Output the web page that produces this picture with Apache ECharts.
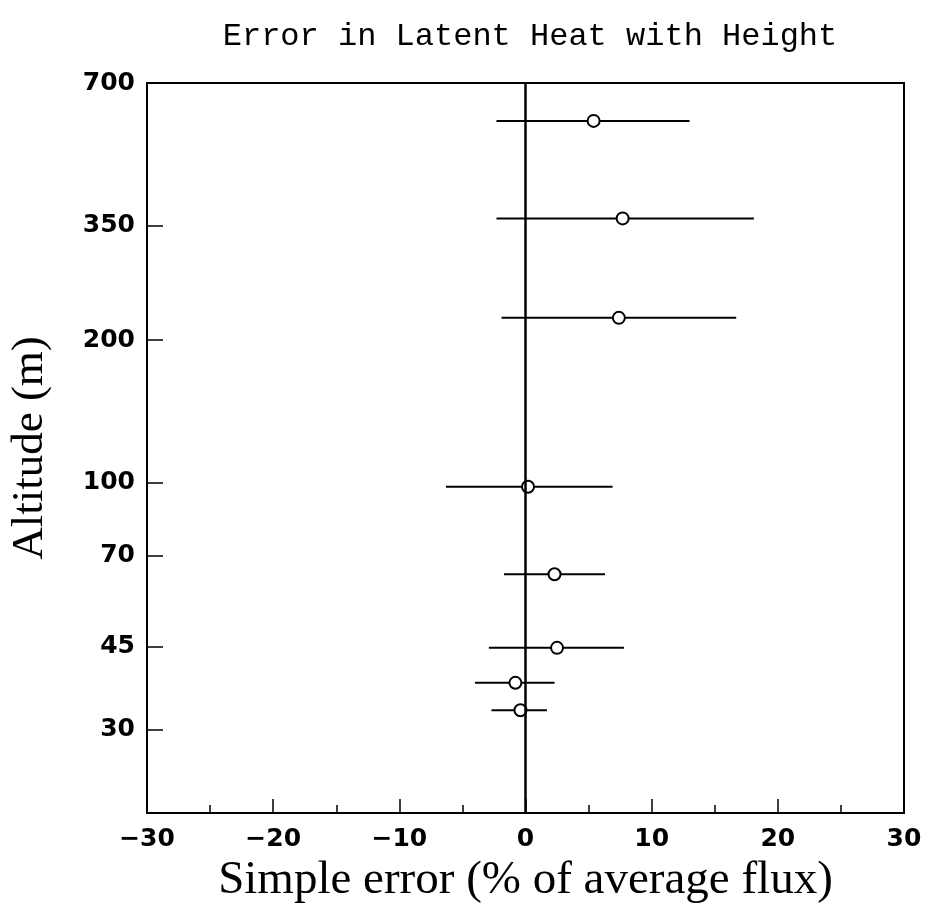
<!DOCTYPE html>
<html>
<head>
<meta charset="utf-8">
<script src="https://cdn.jsdelivr.net/npm/echarts@6/dist/echarts.min.js"></script>
<style>html,body{margin:0;padding:0;background:#fff}#c{width:927px;height:917px}</style>
</head>
<body>
<div id="c"></div>
<script>
// Data
var altitudes = [582, 362, 223, 98, 64, 44.7, 37.7, 33];
var errMean   = [5.4, 7.7, 7.4, 0.2, 2.3, 2.5, -0.8, -0.4];
var errLow    = [-2.3, -2.3, -1.9, -6.3, -1.7, -2.9, -4.0, -2.7];
var errHigh   = [13.0, 18.1, 16.7, 6.9, 6.3, 7.8, 2.3, 1.7];
var yTicks    = [30, 45, 70, 100, 200, 350, 700];

var chart = echarts.init(document.getElementById('c'), null, {renderer: 'canvas'});

var barData = altitudes.map(function (a, i) { return [errLow[i], errHigh[i], a]; });
var pointData = altitudes.map(function (a, i) { return [errMean[i], a]; });

var option = {
  backgroundColor: '#fff',
  animation: false,
  title: {
    text: 'Error in Latent Heat with Height',
    left: 525, top: 16, textAlign: 'center',
    textStyle: {fontFamily: 'Liberation Mono', fontSize: 32, fontWeight: 'normal', color: '#000'}
  },
  grid: {left: 146, right: 23, top: 83, bottom: 104, show: true, borderColor: '#000', borderWidth: 2, backgroundColor: 'transparent'},
  xAxis: {
    type: 'value', min: -30, max: 30, interval: 10,
    name: 'Simple error (% of average flux)', nameLocation: 'middle', nameGap: 28,
    nameTextStyle: {fontFamily: 'Liberation Serif', fontSize: 47, color: '#000'},
    axisLine: {show: true, onZero: false, lineStyle: {color: '#000', width: 2}},
    axisTick: {show: true, inside: true, length: 14, lineStyle: {color: '#000', width: 1.5}},
    minorTick: {show: true, splitNumber: 2, length: 8, lineStyle: {color: '#000', width: 1.5}},
    splitLine: {show: false},
    axisLabel: {margin: 14, fontFamily: 'DejaVu Sans', fontSize: 25, fontWeight: 'bold', color: '#000',
      formatter: function (v) { return String(v).replace('-', '\u2212'); }}
  },
  yAxis: {
    type: 'log', logBase: 10, min: 20, max: 700,
    name: 'Altitude (m)', nameLocation: 'middle', nameGap: 94, nameRotate: 90,
    nameTextStyle: {fontFamily: 'Liberation Serif', fontSize: 45, color: '#000'},
    axisLine: {show: true, onZero: false, lineStyle: {color: '#000', width: 2}},
    axisTick: {show: true, inside: true, length: 16, customValues: yTicks, lineStyle: {color: '#000', width: 1.5}},
    splitLine: {show: false},
    axisLabel: {margin: 12, customValues: yTicks, fontFamily: 'DejaVu Sans', fontSize: 25, fontWeight: 'bold', color: '#000'}
  },
  series: [
    {
      type: 'custom',
      data: barData,
      encode: {x: [0, 1], y: 2},
      renderItem: function (params, api) {
        var p1 = api.coord([api.value(0), api.value(2)]);
        var p2 = api.coord([api.value(1), api.value(2)]);
        return {type: 'line', shape: {x1: p1[0], y1: p1[1], x2: p2[0], y2: p2[1]},
                style: {stroke: '#000', lineWidth: 2}};
      },
      z: 2
    },
    {
      type: 'scatter',
      data: pointData,
      symbol: 'circle', symbolSize: 12,
      itemStyle: {color: '#fff', borderColor: '#000', borderWidth: 2, opacity: 1},
      markLine: {
        silent: true, symbol: ['none', 'none'], label: {show: false},
        lineStyle: {color: '#000', width: 2.5, type: 'solid'},
        data: [{xAxis: 0}]
      },
      z: 3
    }
  ]
};
chart.setOption(option);
</script>
</body>
</html>
